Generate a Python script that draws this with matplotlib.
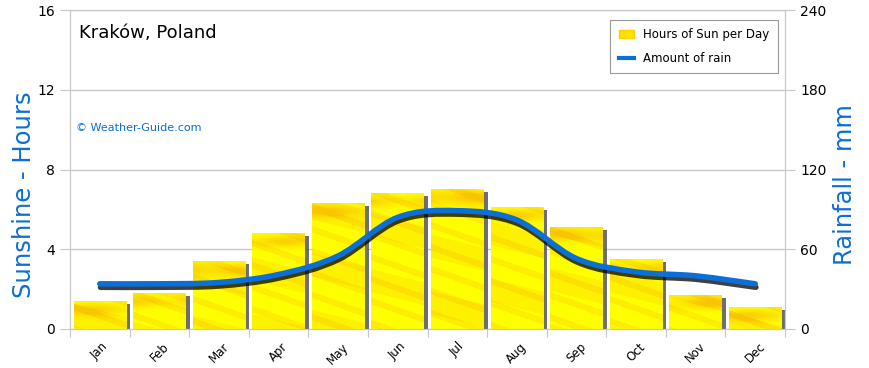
import numpy as np
import matplotlib
matplotlib.use("Agg")
import matplotlib.pyplot as plt
import matplotlib.patheffects as pe
from matplotlib.path import Path
from matplotlib.patches import PathPatch, Patch
from matplotlib.lines import Line2D

months = ['Jan', 'Feb', 'Mar', 'Apr', 'May', 'Jun',
          'Jul', 'Aug', 'Sep', 'Oct', 'Nov', 'Dec']
sun_hours = [1.4, 1.8, 3.4, 4.8, 6.3, 6.8, 7.0, 6.1, 5.1, 3.5, 1.7, 1.1]
rain_mm = [34, 34, 35, 41, 55, 84, 89, 82, 53, 43, 40, 34]

BLUE = '#0b6fd8'
GRID = '#c8c8c8'

plt.rcParams['font.family'] = ['DejaVu Sans']

fig = plt.figure(figsize=(8.7, 3.68), dpi=100)
ax = fig.add_axes([70 / 870, 1 - 329 / 368, 715 / 870, 319 / 368])
ax2 = ax.twinx()

x = np.arange(len(months))
width = 0.88


# yellow/orange streaky texture for the bars
def texture(w_px, h_px, seed):
    u = np.arange(w_px)[None, :]
    v = np.arange(h_px)[:, None]
    a = 0.22 * (np.sin((v - 0.35 * u) / 3.5 + seed) > 0.6)
    a = a + 0.18 * (np.sin((v - 0.25 * u) / 9.0 + 2 * seed) > 0.3)
    a = a + 0.6 * np.exp(-((v - 8) / 6.0) ** 2) * (np.sin(u / 12.0 + seed) * 0.3 + 0.7)
    a = np.clip(a, 0, 0.75)
    yellow = np.array([1.0, 1.0, 0.0])
    orange = np.array([0.97, 0.70, 0.02])
    img = yellow[None, None, :] * (1 - a[..., None]) + orange[None, None, :] * a[..., None]
    return img


bars = ax.bar(x, sun_hours, width=width, color='#ffff00', zorder=2,
              path_effects=[pe.SimplePatchShadow(offset=(3, -2), shadow_rgbFace='#555555', alpha=0.85),
                            pe.Normal()])
for i, b in enumerate(bars):
    h_px = max(int(b.get_height() * 20), 2)
    img = texture(53, h_px, i * 1.7)
    im = ax.imshow(img, extent=(b.get_x(), b.get_x() + b.get_width(), 0, b.get_height()),
                   origin='upper', aspect='auto', zorder=3, interpolation='bilinear')
    im.set_clip_path(b)

ax.set_xlim(-0.5, 11.5)
ax.set_ylim(0, 16)
ax.set_yticks([0, 4, 8, 12, 16])
ax.yaxis.grid(True, color=GRID, lw=1)
ax.set_axisbelow(True)
ax.set_xticks(np.arange(-0.5, 12, 1))
ax.set_xticklabels([])
ax.set_xticks(x, minor=True)
ax.set_xticklabels(months, minor=True, rotation=45, ha='center', va='top', fontsize=8.5)
ax.tick_params(axis='x', which='major', length=6, color=GRID)
ax.tick_params(axis='x', which='minor', length=0, pad=8)
ax.tick_params(axis='y', length=7, color=GRID, labelsize=10, pad=4)
for s in ['left', 'right', 'bottom', 'top']:
    ax.spines[s].set_color(GRID)

# rain line as a smooth curve through the monthly values
ax2.set_ylim(0, 240)
ax2.set_yticks([0, 60, 120, 180, 240])
ax2.tick_params(axis='y', length=7, color=GRID, labelsize=10, pad=4)
for s in ['left', 'right', 'bottom', 'top']:
    ax2.spines[s].set_color(GRID)

pts = np.column_stack([x, rain_mm]).astype(float)
verts = [pts[0]]
codes = [Path.MOVETO]
n = len(pts)
for i in range(n - 1):
    p0 = pts[max(i - 1, 0)]
    p1 = pts[i]
    p2 = pts[i + 1]
    p3 = pts[min(i + 2, n - 1)]
    verts += [p1 + (p2 - p0) / 6, p2 - (p3 - p1) / 6, p2]
    codes += [Path.CURVE4] * 3
rain_path = PathPatch(Path(verts, codes), fill=False, edgecolor=BLUE, lw=4, zorder=5,
                      path_effects=[pe.SimpleLineShadow(offset=(0.5, -2.5), shadow_color='black', alpha=0.75),
                                    pe.Normal()])
rain_path.set_capstyle('round')
ax2.add_patch(rain_path)

# axis titles placed like the original (a bit below the middle)
fig.text(24 / 870, 1 - 195 / 368, 'Sunshine - Hours', rotation=90, color=BLUE,
         fontsize=17.5, ha='center', va='center')
fig.text(845 / 870, 1 - 185 / 368, 'Rainfall - mm', rotation=90, color=BLUE,
         fontsize=17.5, ha='center', va='center')

ax.text(0.012, 0.955, 'Kraków, Poland', transform=ax.transAxes, fontsize=13, va='top', ha='left')
ax.text(0.008, 0.63, '© Weather-Guide.com', transform=ax.transAxes, fontsize=8,
        color=BLUE, va='center', ha='left')

handles = [Patch(facecolor='#ffe000', edgecolor='#ffd000'),
           Line2D([0], [0], color=BLUE, lw=3)]
leg = ax2.legend(handles, ['Hours of Sun per Day', 'Amount of rain'], loc='upper right',
                 bbox_to_anchor=(0.99, 0.969), borderaxespad=0, fancybox=False, fontsize=8.5,
                 handlelength=1.3, handleheight=0.7, labelspacing=0.9, borderpad=0.7,
                 framealpha=1)
leg.get_frame().set_edgecolor('#999999')
leg.get_frame().set_linewidth(0.8)

fig.savefig('out.png', dpi=100)
